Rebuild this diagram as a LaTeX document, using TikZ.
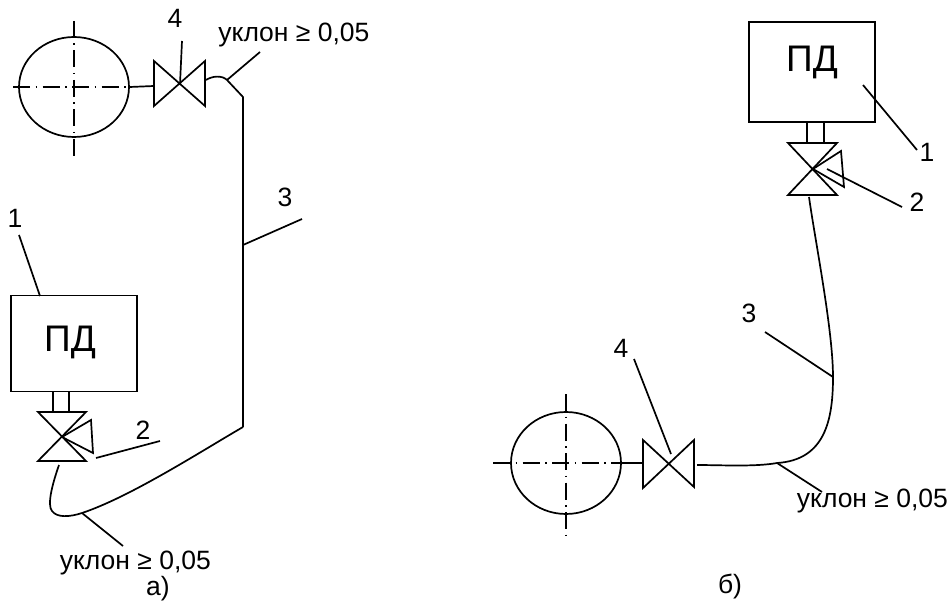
\documentclass[tikz,border=0pt]{standalone}
\usepackage{fontspec}
\setmainfont{Liberation Sans}
\usetikzlibrary{shapes.geometric}
\begin{document}
\begin{tikzpicture}[x=1pt,y=-1pt,line width=1.7pt]
	\tikzstyle{box}=[draw, rectangle, inner sep=0pt, minimum width=126pt, minimum height=96pt]
	\tikzstyle{tank}=[draw, ellipse, inner sep=0pt, minimum width=110pt, minimum height=100pt]
	\tikzstyle{txt}=[inner sep=0pt, anchor=base, font=\fontsize{26.5}{30}\selectfont]
	\tikzstyle{big}=[inner sep=0pt, anchor=base, font=\fontsize{37}{40}\selectfont]
	\tikzstyle{axis}=[line width=1.5pt, dash pattern=on 17pt off 5.5pt on 1.5pt off 5.5pt]
	\useasboundingbox (0,0) rectangle (950,601);
	% scheme a
	\node[tank] (Ta) at (74,87) {};
	\node[box] (Ba) at (74,343.5) {};
	\node[big] (Pa) at (70,352) {ПД};
	\coordinate (Ah1) at (13,87);
	\coordinate (Ah2) at (129,87);
	\coordinate (Av1) at (74,21);
	\coordinate (Av2) at (74,157);
	\coordinate (V4c) at (180,84);
	\coordinate (V4a) at (154,61);
	\coordinate (V4b) at (154,106);
	\coordinate (V4d) at (205,61);
	\coordinate (V4e) at (205,106);
	\coordinate (V4t) at (182,41);
	\coordinate (V4s) at (154,86);
	\coordinate (Ra1) at (206,80);
	\coordinate (Ra2) at (227,80);
	\coordinate (Ra3) at (243,97);
	\coordinate (Ra4) at (243,427);
	\coordinate (Ra5) at (243,245);
	\coordinate (Ra6) at (82,513);
	\coordinate (Ra7) at (59,465);
	\coordinate (S1a) at (53,391);
	\coordinate (S1b) at (53,412);
	\coordinate (S2a) at (69,391);
	\coordinate (S2b) at (69,412);
	\coordinate (V2a) at (38,412);
	\coordinate (V2b) at (86,412);
	\coordinate (V2c) at (62,437);
	\coordinate (V2d) at (38,461);
	\coordinate (V2e) at (86,461);
	\coordinate (V2f) at (91,420);
	\coordinate (V2g) at (93,453);
	\coordinate (La1) at (19,235);
	\coordinate (La1b) at (40,296);
	\coordinate (La2a) at (96,458);
	\coordinate (La2b) at (160,441);
	\coordinate (La3) at (302,219);
	\coordinate (Lau) at (260,52);
	\coordinate (Lad) at (123,546);
	\node[txt] (N4a) at (175,28) {4};
	\node[txt, anchor=base west] (Ua) at (217.5,42) {уклон ≥ 0,05};
	\node[txt] (N3a) at (285,207) {3};
	\node[txt] (N1a) at (15,228) {1};
	\node[txt] (N2a) at (143,439) {2};
	\node[txt, anchor=base west] (Ub) at (59,569) {уклон ≥ 0,05};
	\node[txt] (Ca) at (158,595) {а)};
	\path[draw, axis] (Ah1) -- (Ah2);
	\path[draw, axis] (Av1) -- (Av2);
	\draw (Ta.east) -- (V4s);
	\draw (V4a) -- (V4e) -- (V4d) -- (V4b) -- cycle;
	\draw (V4t) -- (V4c);
	\draw (Ra1) .. controls (212,76) and (222,75) .. (Ra2) -- (Ra3) -- (Ra4);
	\draw (Ra2) -- (Lau);
	\draw (Ra5) -- (La3);
	\draw (Ra7) .. controls (52,485) and (47,505) .. (52,511) .. controls (57,518) and (70,517) .. (Ra6) .. controls (130,497) and (200,452) .. (Ra4);
	\draw (Ra6) -- (Lad);
	\draw (S1a) -- (S1b);
	\draw (S2a) -- (S2b);
	\draw (V2a) -- (V2b) -- (V2d) -- (V2e) -- cycle;
	\draw (V2c) -- (V2f) -- (V2g) -- cycle;
	\draw (La1) -- (La1b);
	\draw (La2a) -- (La2b);
	% scheme b
	\node[box, minimum height=100pt] (Bb) at (812,72) {};
	\node[big] (Pb) at (812,72) {ПД};
	\node[tank, minimum height=102pt] (Tb) at (566,463) {};
	\coordinate (Bh1) at (493,463);
	\coordinate (Bh2) at (622,463);
	\coordinate (Bv1) at (566,394);
	\coordinate (Bv2) at (566,538);
	\coordinate (W4c) at (669,463);
	\coordinate (W4a) at (643,440);
	\coordinate (W4b) at (643,488);
	\coordinate (W4d) at (694,440);
	\coordinate (W4e) at (694,487);
	\coordinate (W4s) at (643,463);
	\coordinate (W2a) at (788,143);
	\coordinate (W2b) at (837,143);
	\coordinate (W2c) at (813,169);
	\coordinate (W2d) at (788,195);
	\coordinate (W2e) at (837,195);
	\coordinate (W2f) at (841,151);
	\coordinate (W2g) at (844,187);
	\coordinate (T1a) at (807,122);
	\coordinate (T1b) at (807,143);
	\coordinate (T2a) at (824,122);
	\coordinate (T2b) at (824,143);
	\coordinate (Rb1) at (809,197);
	\coordinate (Rb2) at (833,377);
	\coordinate (Rb3) at (777,463);
	\coordinate (Rb4) at (697,465);
	\coordinate (Lb1a) at (863,85);
	\coordinate (Lb1b) at (917,150);
	\coordinate (Lb2a) at (827,169);
	\coordinate (Lb2b) at (902,207);
	\coordinate (Lb3) at (765,332);
	\coordinate (Lb4a) at (634,359);
	\coordinate (Lb4b) at (671,454);
	\coordinate (Lbu) at (822,492);
	\node[txt] (N1b) at (927,162) {1};
	\node[txt] (N2b) at (917,212) {2};
	\node[txt] (N3b) at (749,323) {3};
	\node[txt] (N4b) at (621,358) {4};
	\node[txt, anchor=base west] (Uc) at (796,507) {уклон ≥ 0,05};
	\node[txt] (Cb) at (730,593) {б)};
	\path[draw, axis] (Bh1) -- (Bh2);
	\path[draw, axis] (Bv1) -- (Bv2);
	\draw (Tb.east) -- (W4s);
	\draw (W4a) -- (W4e) -- (W4d) -- (W4b) -- cycle;
	\draw (T1a) -- (T1b);
	\draw (T2a) -- (T2b);
	\draw (W2a) -- (W2b) -- (W2d) -- (W2e) -- cycle;
	\draw (W2c) -- (W2f) -- (W2g) -- cycle;
	\draw (Rb1) .. controls (815,240) and (833,330) .. (Rb2) .. controls (833,420) and (825,460) .. (Rb3) .. controls (755,467) and (720,465) .. (Rb4);
	\draw (Rb3) -- (Lbu);
	\draw (Lb1a) -- (Lb1b);
	\draw (Lb2a) -- (Lb2b);
	\draw (Rb2) -- (Lb3);
	\draw (Lb4a) -- (Lb4b);
\end{tikzpicture}
\end{document}
